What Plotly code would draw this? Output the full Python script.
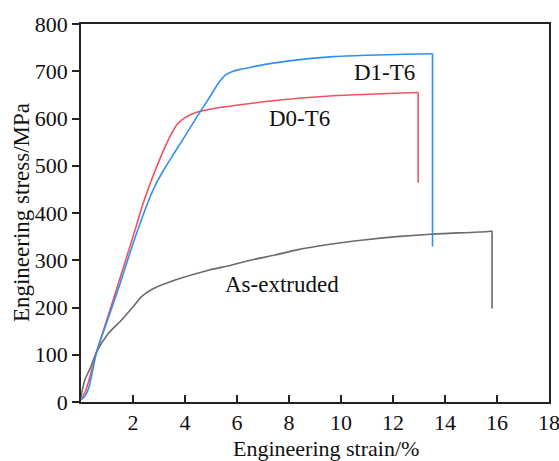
import plotly.graph_objects as go

# As-extruded (gray)
ext_strain = [0.0, 0.15, 0.35, 0.6, 1.05, 1.57, 2.01, 2.33, 2.72, 3.62, 4.9, 5.74, 6.5, 7.47, 8.3, 9.58, 10.87, 12.15, 13.43, 15.68, 15.81, 15.81]
ext_stress = [11, 47, 71, 106, 145, 174, 202, 223, 238, 258, 279, 289, 300, 311, 322, 334, 343, 350, 355, 361, 362, 198]

# D0-T6 (red)
d0_strain = [0.0, 0.15, 0.3, 0.6, 1.0, 1.5, 2.0, 2.4, 2.78, 3.17, 3.45, 3.7, 4.0, 4.45, 5.0, 6.12, 7.47, 9.7, 12.97, 12.97]
d0_stress = [5, 20, 45, 106, 175, 262, 350, 422, 480, 532, 565, 588, 602, 613, 620, 629, 638, 648, 655, 464]

# D1-T6 (blue)
d1_strain = [0.0, 0.15, 0.3, 0.6, 1.0, 1.5, 2.0, 2.59, 2.85, 3.17, 3.6, 4.07, 4.5, 4.97, 5.3, 5.55, 5.8, 6.12, 6.57, 7.15, 8.0, 9.71, 11.0, 12.5, 13.52, 13.52]
d1_stress = [5, 12, 30, 106, 170, 250, 335, 425, 458, 490, 528, 569, 607, 647, 676, 692, 699, 704, 709, 715, 722, 731, 734, 736, 737, 329]

labels = ["As-extruded", "D0-T6", "D1-T6"]
label_x = [7.74, 8.39, 11.69]
label_y = [248, 600, 698]
colors = ["#6b6b6b", "#f4505c", "#2f90f2"]

x_ticks = [2, 4, 6, 8, 10, 12, 14, 16, 18]
y_ticks = [0, 100, 200, 300, 400, 500, 600, 700, 800]
x_title = "Engineering strain/%"
y_title = "Engineering stress/MPa"

FONT = "Liberation Serif, Times New Roman, serif"
FS = 23
TICK_FS = 22

fig = go.Figure()
for xs, ys, c, nm in zip([ext_strain, d0_strain, d1_strain],
                         [ext_stress, d0_stress, d1_stress], colors, labels):
    # smooth hardening curve
    fig.add_trace(go.Scatter(x=xs[:-1], y=ys[:-1], mode="lines",
                             line=dict(color=c, width=1.6, shape="spline", smoothing=0.7),
                             name=nm))
    # fracture drop
    fig.add_trace(go.Scatter(x=xs[-2:], y=ys[-2:], mode="lines",
                             line=dict(color=c, width=1.6), name=nm))

for t, xx, yy in zip(labels, label_x, label_y):
    fig.add_annotation(x=xx, y=yy, text=t, showarrow=False,
                       font=dict(family=FONT, size=FS, color="#111111"))

# axis titles
fig.add_annotation(xref="paper", yref="paper", x=0.524, y=-0.122, text=x_title,
                   showarrow=False, xanchor="center", yanchor="middle",
                   font=dict(family=FONT, size=22, color="#111111"))
fig.add_annotation(xref="paper", yref="paper", x=-0.128, y=0.5, text=y_title,
                   showarrow=False, xanchor="center", yanchor="middle", textangle=-90,
                   font=dict(family=FONT, size=FS, color="#111111"))

fig.update_layout(
    width=559, height=461,
    margin=dict(l=81, r=10, t=24, b=59),
    paper_bgcolor="white", plot_bgcolor="white",
    showlegend=False,
    font=dict(family=FONT, size=FS, color="#111111"),
)
fig.update_xaxes(range=[0, 18], tickvals=x_ticks, ticks="inside", ticklen=7,
                 tickwidth=1.5, tickcolor="#222222", automargin=False,
                 ticklabeloverflow="allow",
                 showline=True, linecolor="#222222", linewidth=1.8, mirror=True,
                 showgrid=False, zeroline=False,
                 tickfont=dict(family=FONT, size=TICK_FS))
fig.update_yaxes(range=[0, 800], tickvals=y_ticks, ticks="outside", ticklen=7,
                 tickwidth=1.5, tickcolor="#222222", automargin=False,
                 ticklabeloverflow="allow",
                 showline=True, linecolor="#222222", linewidth=1.8, mirror=True,
                 showgrid=False, zeroline=False,
                 tickfont=dict(family=FONT, size=TICK_FS))

fig.write_html("out.html")
